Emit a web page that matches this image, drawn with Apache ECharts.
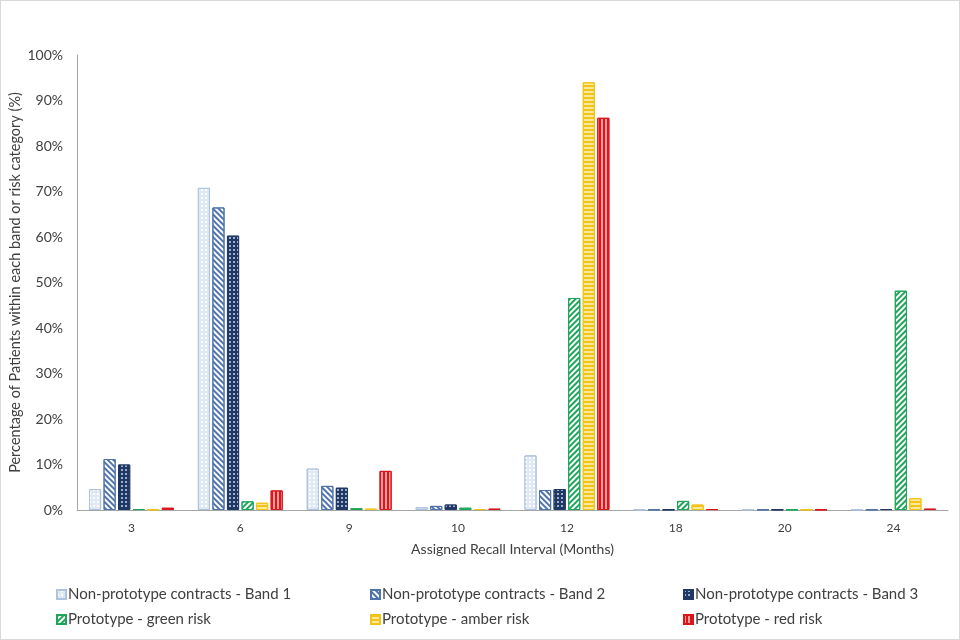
<!DOCTYPE html>
<html>
<head>
<meta charset="utf-8">
<script src="https://cdn.jsdelivr.net/npm/echarts@6/dist/echarts.min.js"></script>
<style>
html,body{margin:0;padding:0;background:#fff;}
#chart{width:958px;height:638px;border:1px solid #d9d9d9;}
</style>
</head>
<body>
<div id="chart"></div>
<script>
var categories = ['3', '6', '9', '10', '12', '18', '20', '24'];
var band1 = [4.6, 70.8, 9.1, 0.6, 12.0, 0.1, 0.1, 0.1];
var band2 = [11.2, 66.5, 5.3, 0.9, 4.4, 0.1, 0.1, 0.1];
var band3 = [10.0, 60.3, 4.9, 1.2, 4.6, 0.1, 0.1, 0.2];
var green = [0.2, 1.9, 0.4, 0.5, 46.6, 2.0, 0.1, 48.2];
var amber = [0.1, 1.6, 0.3, 0.2, 94.0, 1.2, 0.1, 2.6];
var red = [0.5, 4.3, 8.6, 0.3, 86.2, 0.2, 0.1, 0.3];
var yTicks = ['0%','10%','20%','30%','40%','50%','60%','70%','80%','90%','100%'];

var names = ['Non-prototype contracts - Band 1','Non-prototype contracts - Band 2','Non-prototype contracts - Band 3','Prototype - green risk','Prototype - amber risk','Prototype - red risk'];
var FONT = 'Lato';
var styles = [
  {color:'#dfe8f3', borderColor:'#aec3df', decal:{symbol:'rect', symbolSize:1, color:'rgba(255,255,255,0.85)', dashArrayX:[2,2], dashArrayY:[2,2]}},
  {color:'#ffffff', borderColor:'#4f74ad', decal:{symbol:'rect', symbolSize:1, color:'#4f74ad', dashArrayX:[1,0], dashArrayY:[2,2], rotation:Math.PI/4}},
  {color:'#1f3864', borderColor:'#1f3864', decal:{symbol:'rect', symbolSize:1, color:'rgba(200,215,240,0.75)', dashArrayX:[2,2], dashArrayY:[2,2]}},
  {color:'#ffffff', borderColor:'#1fa55a', decal:{symbol:'rect', symbolSize:1, color:'#1fa55a', dashArrayX:[1,0], dashArrayY:[2,2], rotation:-Math.PI/4}},
  {color:'#fbe89a', borderColor:'#f0c419', decal:{symbol:'rect', symbolSize:1, color:'#f0c419', dashArrayX:[1,0], dashArrayY:[1.5,1.5]}},
  {color:'#ff9c9c', borderColor:'#d9161c', decal:{symbol:'rect', symbolSize:1, color:'#d9161c', dashArrayX:[1,0], dashArrayY:[1.5,1.5], rotation:Math.PI/2}}
];
var datas = [band1, band2, band3, green, amber, red];

var series = names.map(function(n,i){
  return {
    name:n, type:'bar', data:datas[i],
    barGap:'20%', barCategoryGap:'22%',
    itemStyle:{color:styles[i].color, borderColor:styles[i].borderColor, borderWidth:1, decal:styles[i].decal},
    emphasis:{disabled:true}
  };
});

function mkLegend(left, data){
  return {
    left:left, top:581, orient:'vertical', itemGap:10,
    itemWidth:9, itemHeight:9, icon:'rect',
    data:data, selectedMode:false,
    textStyle:{fontFamily:FONT, fontSize:15, color:'#404040', padding:[0,0,0,-3]}
  };
}

var chart = echarts.init(document.getElementById('chart'));
chart.setOption({
  animation:false,
  aria:{enabled:false},
  grid:{left:76, right:11, top:54, bottom:129, containLabel:false, outerBoundsMode:'none'},
  legend:[
    mkLegend(50, [names[0], names[3]]),
    mkLegend(364, [names[1], names[4]]),
    mkLegend(677, [names[2], names[5]])
  ],
  xAxis:{
    type:'category', data:categories,
    name:'Assigned Recall Interval (Months)', nameLocation:'middle', nameGap:32, nameMoveOverlap:false,
    nameTextStyle:{fontFamily:FONT, fontSize:14, color:'#404040'},
    axisLine:{lineStyle:{color:'#a6a6a6'}},
    axisTick:{show:false},
    axisLabel:{fontFamily:FONT, fontSize:12, color:'#404040', margin:12}
  },
  yAxis:{
    type:'value', min:0, max:100, interval:10,
    name:'Percentage of Patients within each band or risk category (%)', nameLocation:'middle', nameGap:54, nameMoveOverlap:false,
    nameTextStyle:{fontFamily:FONT, fontSize:14.5, color:'#404040'},
    axisLine:{show:true, lineStyle:{color:'#a6a6a6'}},
    axisTick:{show:false},
    splitLine:{show:false},
    axisLabel:{fontFamily:FONT, fontSize:14, color:'#404040', margin:14, formatter:function(v){return yTicks[Math.round(v/10)];}}
  },
  series:series
});
</script>
</body>
</html>
